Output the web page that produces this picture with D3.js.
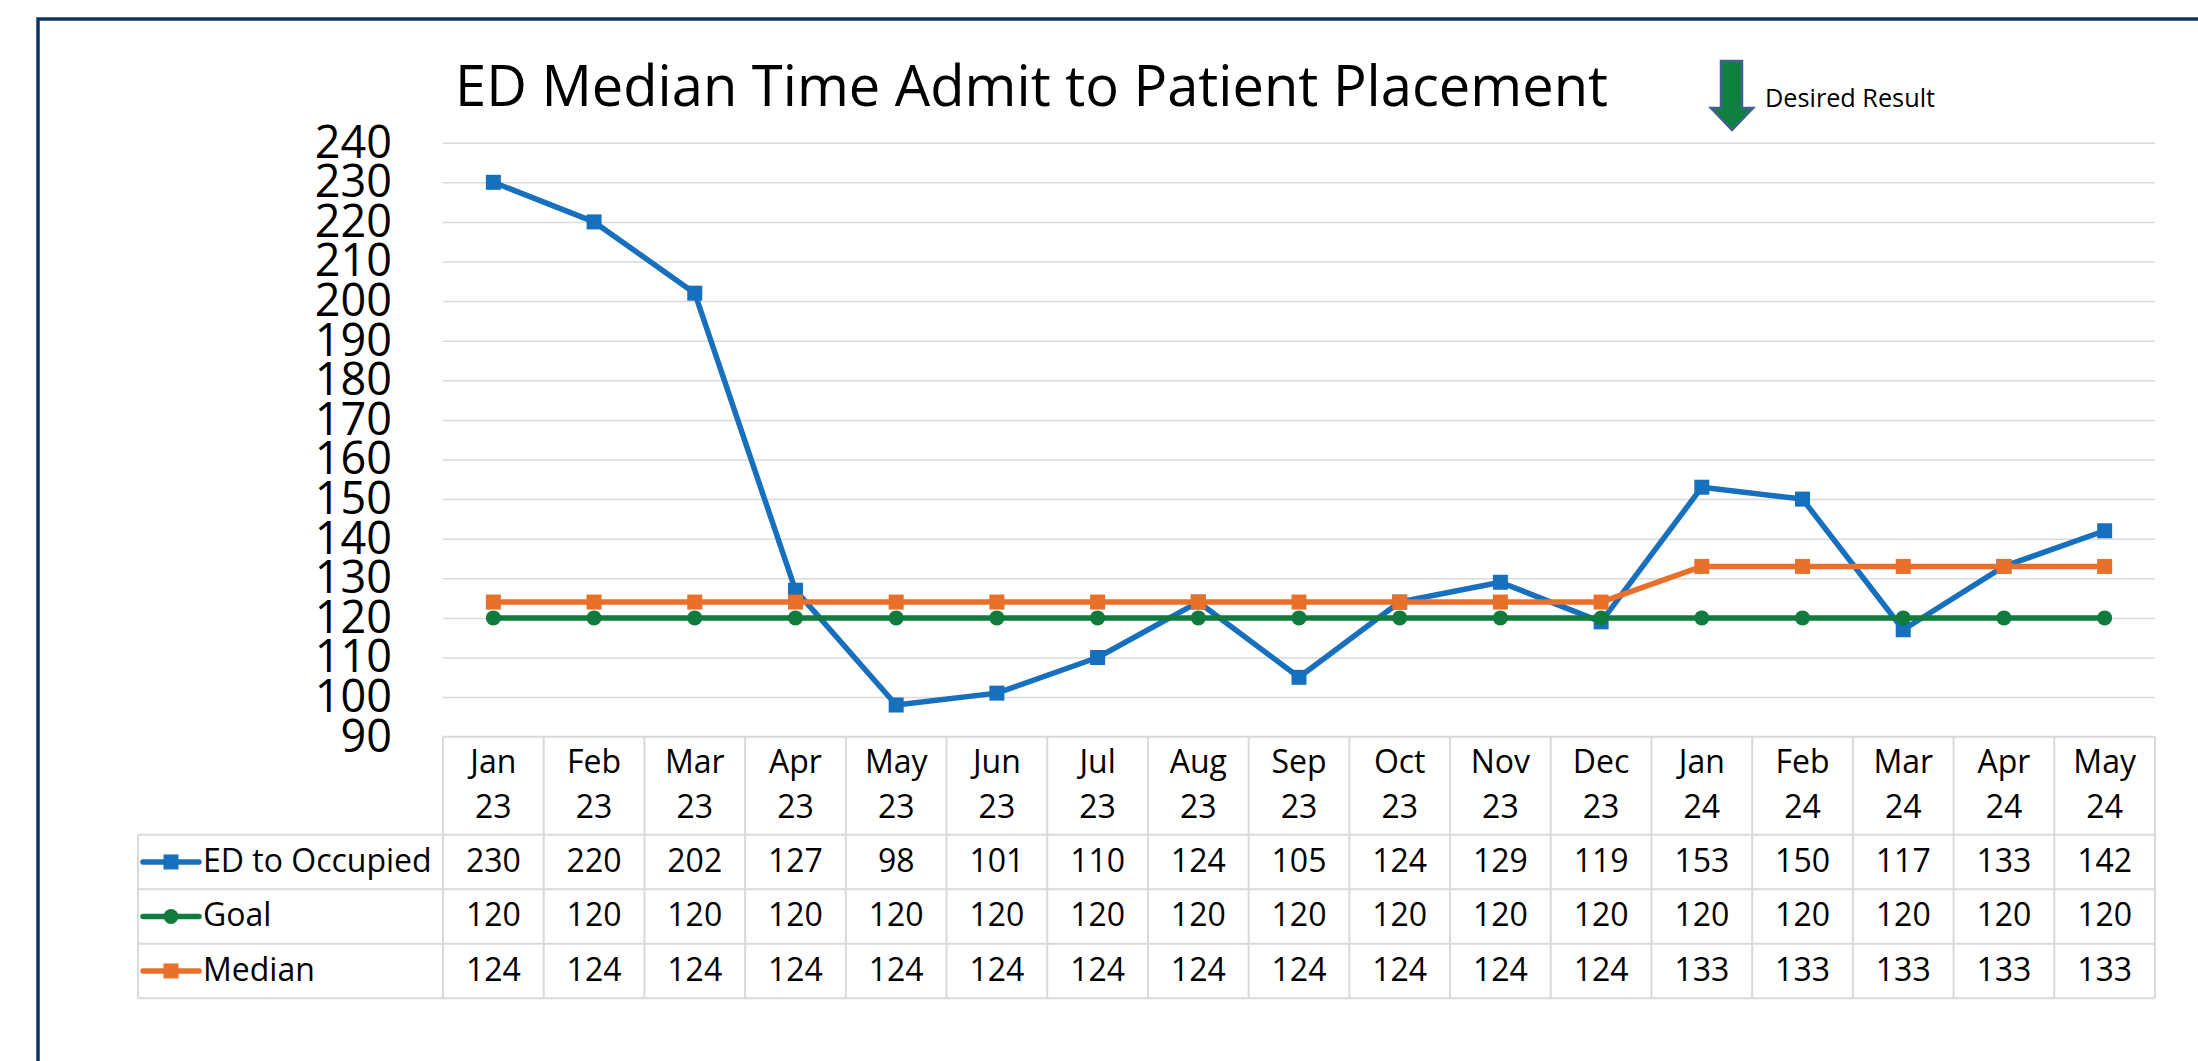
<!DOCTYPE html>
<html>
<head>
<meta charset="utf-8">
<script src="https://cdn.jsdelivr.net/npm/d3@7"></script>
<style>
  body { margin: 0; background: #fff; }
  svg { display: block; font-family: "Open Sans", sans-serif; }
</style>
</head>
<body>
<svg width="2198" height="1061"></svg>
<script>
// DATA

var months = ["Jan 23", "Feb 23", "Mar 23", "Apr 23", "May 23", "Jun 23", "Jul 23", "Aug 23",
              "Sep 23", "Oct 23", "Nov 23", "Dec 23", "Jan 24", "Feb 24", "Mar 24", "Apr 24", "May 24"];
var edToOccupied = [230, 220, 202, 127, 98, 101, 110, 124, 105, 124, 129, 119, 153, 150, 117, 133, 142];
var goal = [120, 120, 120, 120, 120, 120, 120, 120, 120, 120, 120, 120, 120, 120, 120, 120, 120];
var median = [124, 124, 124, 124, 124, 124, 124, 124, 124, 124, 124, 124, 133, 133, 133, 133, 133];
var yTicks = [90, 100, 110, 120, 130, 140, 150, 160, 170, 180, 190, 200, 210, 220, 230, 240];

var series = [
    { name: "ED to Occupied", values: edToOccupied, color: "#1670bd", marker: "square" },
    { name: "Goal", values: goal, color: "#117a3d", marker: "circle" },
    { name: "Median", values: median, color: "#e8702a", marker: "square" }
];

// SETUP

var svg = d3.select("svg"),
    plotLeft = 443, plotRight = 2155,
    plotTop = 142.7, plotBottom = 736.7,
    headerH = 98, rowH = 54.5, legendLeft = 138;

var x = d3.scaleBand().domain(months).range([plotLeft, plotRight]),
    y = d3.scaleLinear().domain([90, 240]).range([plotBottom, plotTop]);

var gridColor = "#d9d9d9";

// frame
svg.append("rect")
    .attr("x", 38).attr("y", 19)
    .attr("width", 2400).attr("height", 1200)
    .attr("fill", "none")
    .attr("stroke", "#0d3461")
    .attr("stroke-width", 3.5);

// title
svg.append("text")
    .attr("x", 455).attr("y", 106)
    .attr("font-size", 57)
    .attr("textLength", 1153)
    .attr("lengthAdjust", "spacingAndGlyphs")
    .attr("fill", "#000")
    .text("ED Median Time Admit to Patient Placement");

// desired result arrow
var arrow = d3.path();
arrow.moveTo(1721, 61); arrow.lineTo(1742, 61); arrow.lineTo(1742, 108);
arrow.lineTo(1753, 108); arrow.lineTo(1732, 130); arrow.lineTo(1711, 108);
arrow.lineTo(1721, 108); arrow.closePath();
svg.append("path")
    .attr("d", arrow.toString())
    .attr("fill", "#108040")
    .attr("stroke", "#41608e")
    .attr("stroke-width", 2.5);

svg.append("text")
    .attr("x", 1765).attr("y", 107)
    .attr("font-size", 26)
    .attr("textLength", 170)
    .attr("lengthAdjust", "spacingAndGlyphs")
    .text("Desired Result");

// gridlines
svg.append("g")
    .attr("transform", "translate(" + plotLeft + ",0)")
    .call(d3.axisLeft(y).tickValues(yTicks.slice(1)).tickSize(-(plotRight - plotLeft)).tickFormat(""))
    .call(function (g) { g.select(".domain").remove(); })
    .selectAll("line")
    .attr("stroke", gridColor)
    .attr("stroke-width", 1.5);

// y axis labels
svg.append("g")
    .attr("transform", "translate(" + plotLeft + ",0)")
    .call(d3.axisLeft(y).tickValues(yTicks).tickSize(0).tickPadding(51))
    .call(function (g) { g.select(".domain").remove(); })
    .selectAll("text")
    .attr("font-family", "Open Sans, sans-serif")
    .attr("font-size", 45)
    .attr("fill", "#000");

// DATA TABLE

var tableTop = plotBottom,
    headerBottom = tableTop + headerH,
    tableBottom = headerBottom + rowH * series.length;

var table = svg.append("g")
    .attr("stroke", gridColor)
    .attr("stroke-width", 2);

// horizontal rules
table.append("line").attr("x1", plotLeft).attr("x2", plotRight).attr("y1", tableTop).attr("y2", tableTop);
series.forEach(function (s, i) {
    var yy = headerBottom + rowH * i;
    table.append("line").attr("x1", legendLeft).attr("x2", plotRight).attr("y1", yy).attr("y2", yy);
});
table.append("line").attr("x1", legendLeft).attr("x2", plotRight).attr("y1", tableBottom).attr("y2", tableBottom);

// vertical rules
table.append("line").attr("x1", legendLeft).attr("x2", legendLeft).attr("y1", headerBottom).attr("y2", tableBottom);
months.forEach(function (m) {
    table.append("line").attr("x1", x(m)).attr("x2", x(m)).attr("y1", tableTop).attr("y2", tableBottom);
});
table.append("line").attr("x1", plotRight).attr("x2", plotRight).attr("y1", tableTop).attr("y2", tableBottom);

// header labels
var header = svg.append("g")
    .attr("font-size", 32)
    .attr("text-anchor", "middle");

months.forEach(function (m) {
    var parts = m.split(" "),
        cx = x(m) + x.bandwidth() / 2;
    header.append("text").attr("x", cx).attr("y", tableTop + 36).text(parts[0]);
    header.append("text").attr("x", cx).attr("y", tableTop + 81).text(parts[1]);
});

// SERIES

function drawMarker(g, s, cx, cy) {
    if (s.marker === "circle") {
        g.append("circle").attr("cx", cx).attr("cy", cy).attr("r", 7.5).attr("fill", s.color);
    } else {
        g.append("rect").attr("x", cx - 7.5).attr("y", cy - 7.5)
            .attr("width", 15).attr("height", 15).attr("fill", s.color);
    }
}

// rows
series.forEach(function (s, i) {
    var rowTop = headerBottom + rowH * i,
        mid = rowTop + rowH / 2;

    svg.append("line")
        .attr("x1", 143).attr("x2", 199)
        .attr("y1", mid).attr("y2", mid)
        .attr("stroke", s.color)
        .attr("stroke-width", 5.5)
        .attr("stroke-linecap", "round");
    drawMarker(svg, s, 171, mid);

    svg.append("text")
        .attr("x", 203).attr("y", rowTop + 37)
        .attr("font-size", 32)
        .text(s.name);

    svg.append("g")
        .attr("font-size", 32)
        .attr("text-anchor", "middle")
        .selectAll("text")
        .data(s.values)
        .enter().append("text")
        .attr("x", function (d, j) { return x(months[j]) + x.bandwidth() / 2; })
        .attr("y", rowTop + 37)
        .text(function (d) { return d; });
});

var line = d3.line()
    .x(function (d, i) { return x(months[i]) + x.bandwidth() / 2; })
    .y(function (d) { return y(d); });

series.forEach(function (s) {
    var g = svg.append("g");
    g.append("path")
        .attr("d", line(s.values))
        .attr("fill", "none")
        .attr("stroke", s.color)
        .attr("stroke-width", 5.5)
        .attr("stroke-linejoin", "round");
    s.values.forEach(function (v, i) {
        drawMarker(g, s, x(months[i]) + x.bandwidth() / 2, y(v));
    });
});
</script>
</body>
</html>
